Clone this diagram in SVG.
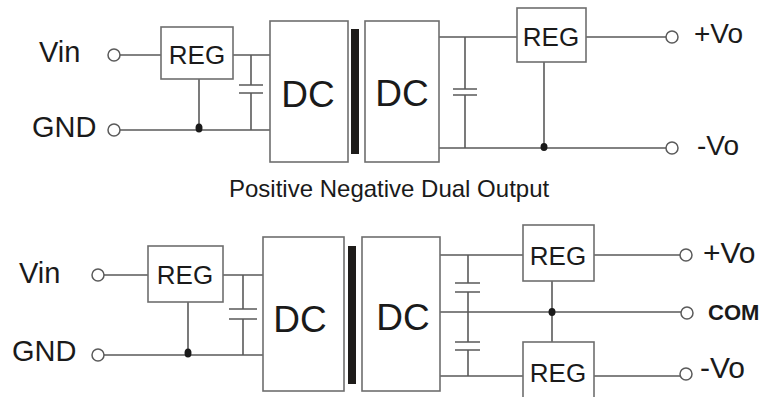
<svg xmlns="http://www.w3.org/2000/svg" width="764" height="397" viewBox="0 0 764 397">
<style>
.w{stroke:#5a5a5a;stroke-width:1.6;fill:none}
.box{stroke:#6e6e6e;stroke-width:1.6;fill:#fff}
.bar{fill:#1e1c1a}
.t{font-family:"Liberation Sans",Arial,sans-serif;fill:#1a1a1a}
.lbl{font-size:29px}
.reg{font-size:26px;text-anchor:middle}
.dc{font-size:37px;text-anchor:middle}
.out{font-size:28px}
.out2{font-size:30px}
.term{stroke:#5a5a5a;stroke-width:1.5;fill:#fff}
.dot{fill:#1a1a1a}
</style>
<g id="connectors">
<path class="w" d="M120 55H161 M233 55H270 M120 130H270 M199 79V130 M251 55V85 M251 93V130 M239 85H263 M239 93H263"/>
<path class="w" d="M439 37H517 M586 37H666 M439 148H666 M544 62V148 M465 37V89 M465 95V148 M453 89H477 M453 95H477"/>
<path class="w" d="M104 275H148 M223 275H263 M104 355H263 M188 302V355 M243 275V309 M243 319V355 M229 309H257 M229 319H257"/>
<path class="w" d="M440 255H523 M594 255H680 M440 312H681 M440 376H523 M594 376H680 M552 281V342 M468 255V283 M468 292V342 M468 350V376 M455 283H480 M455 292H480 M455 342H480 M455 350H480"/>
<ellipse class="dot" cx="199" cy="128" rx="3.5" ry="4.5"/>
<ellipse class="dot" cx="544" cy="147" rx="3.5" ry="4"/>
<ellipse class="dot" cx="188" cy="353" rx="3.5" ry="4.5"/>
<ellipse class="dot" cx="552" cy="312" rx="3.5" ry="4"/>
</g>
<g id="top-vin"><text class="t lbl" x="39" y="62">Vin</text><circle class="term" cx="114" cy="55" r="6"/></g>
<g id="top-gnd"><text class="t lbl" x="32" y="137">GND</text><circle class="term" cx="114" cy="130" r="6"/></g>
<g id="top-reg-in"><rect class="box" x="161" y="27" width="72" height="52"/><text class="t reg" x="197" y="64">REG</text></g>
<g id="top-dc1"><rect class="box" x="270" y="21" width="78" height="141"/><text class="t dc" x="308" y="107">DC</text></g>
<rect id="top-core" class="bar" x="351" y="29" width="8" height="125"/>
<g id="top-dc2"><rect class="box" x="365" y="21" width="74" height="141"/><text class="t dc" x="402" y="106">DC</text></g>
<g id="top-reg-out"><rect class="box" x="517" y="8" width="69" height="54"/><text class="t reg" x="551" y="46">REG</text></g>
<g id="top-pvo"><circle class="term" cx="672" cy="37" r="6"/><text class="t out" x="694" y="43">+Vo</text></g>
<g id="top-nvo"><circle class="term" cx="672" cy="148" r="6"/><text class="t out" x="697" y="155">-Vo</text></g>
<text id="caption" class="t" x="229" y="197" font-size="24">Positive Negative Dual Output</text>
<g id="bot-vin"><text class="t lbl" x="19" y="283">Vin</text><circle class="term" cx="98" cy="275" r="6"/></g>
<g id="bot-gnd"><text class="t lbl" x="12" y="361">GND</text><circle class="term" cx="98" cy="355" r="6"/></g>
<g id="bot-reg-in"><rect class="box" x="148" y="246" width="75" height="56"/><text class="t reg" x="185" y="284">REG</text></g>
<g id="bot-dc1"><rect class="box" x="263" y="237" width="81" height="154"/><text class="t dc" x="300" y="332">DC</text></g>
<rect id="bot-core" class="bar" x="348" y="246" width="8" height="138"/>
<g id="bot-dc2"><rect class="box" x="362" y="237" width="78" height="154"/><text class="t dc" x="403" y="330">DC</text></g>
<g id="bot-reg-p"><rect class="box" x="523" y="225" width="71" height="56"/><text class="t reg" x="558" y="265">REG</text></g>
<g id="bot-reg-n"><rect class="box" x="523" y="342" width="71" height="60"/><text class="t reg" x="558" y="382">REG</text></g>
<g id="bot-pvo"><circle class="term" cx="686" cy="255" r="6"/><text class="t out2" x="703" y="263">+Vo</text></g>
<g id="bot-com"><circle class="term" cx="687" cy="313" r="6"/><text class="t" x="708" y="320" font-size="22" font-weight="bold">COM</text></g>
<g id="bot-nvo"><circle class="term" cx="686" cy="374" r="6"/><text class="t out2" x="700" y="378">-Vo</text></g>
</svg>
